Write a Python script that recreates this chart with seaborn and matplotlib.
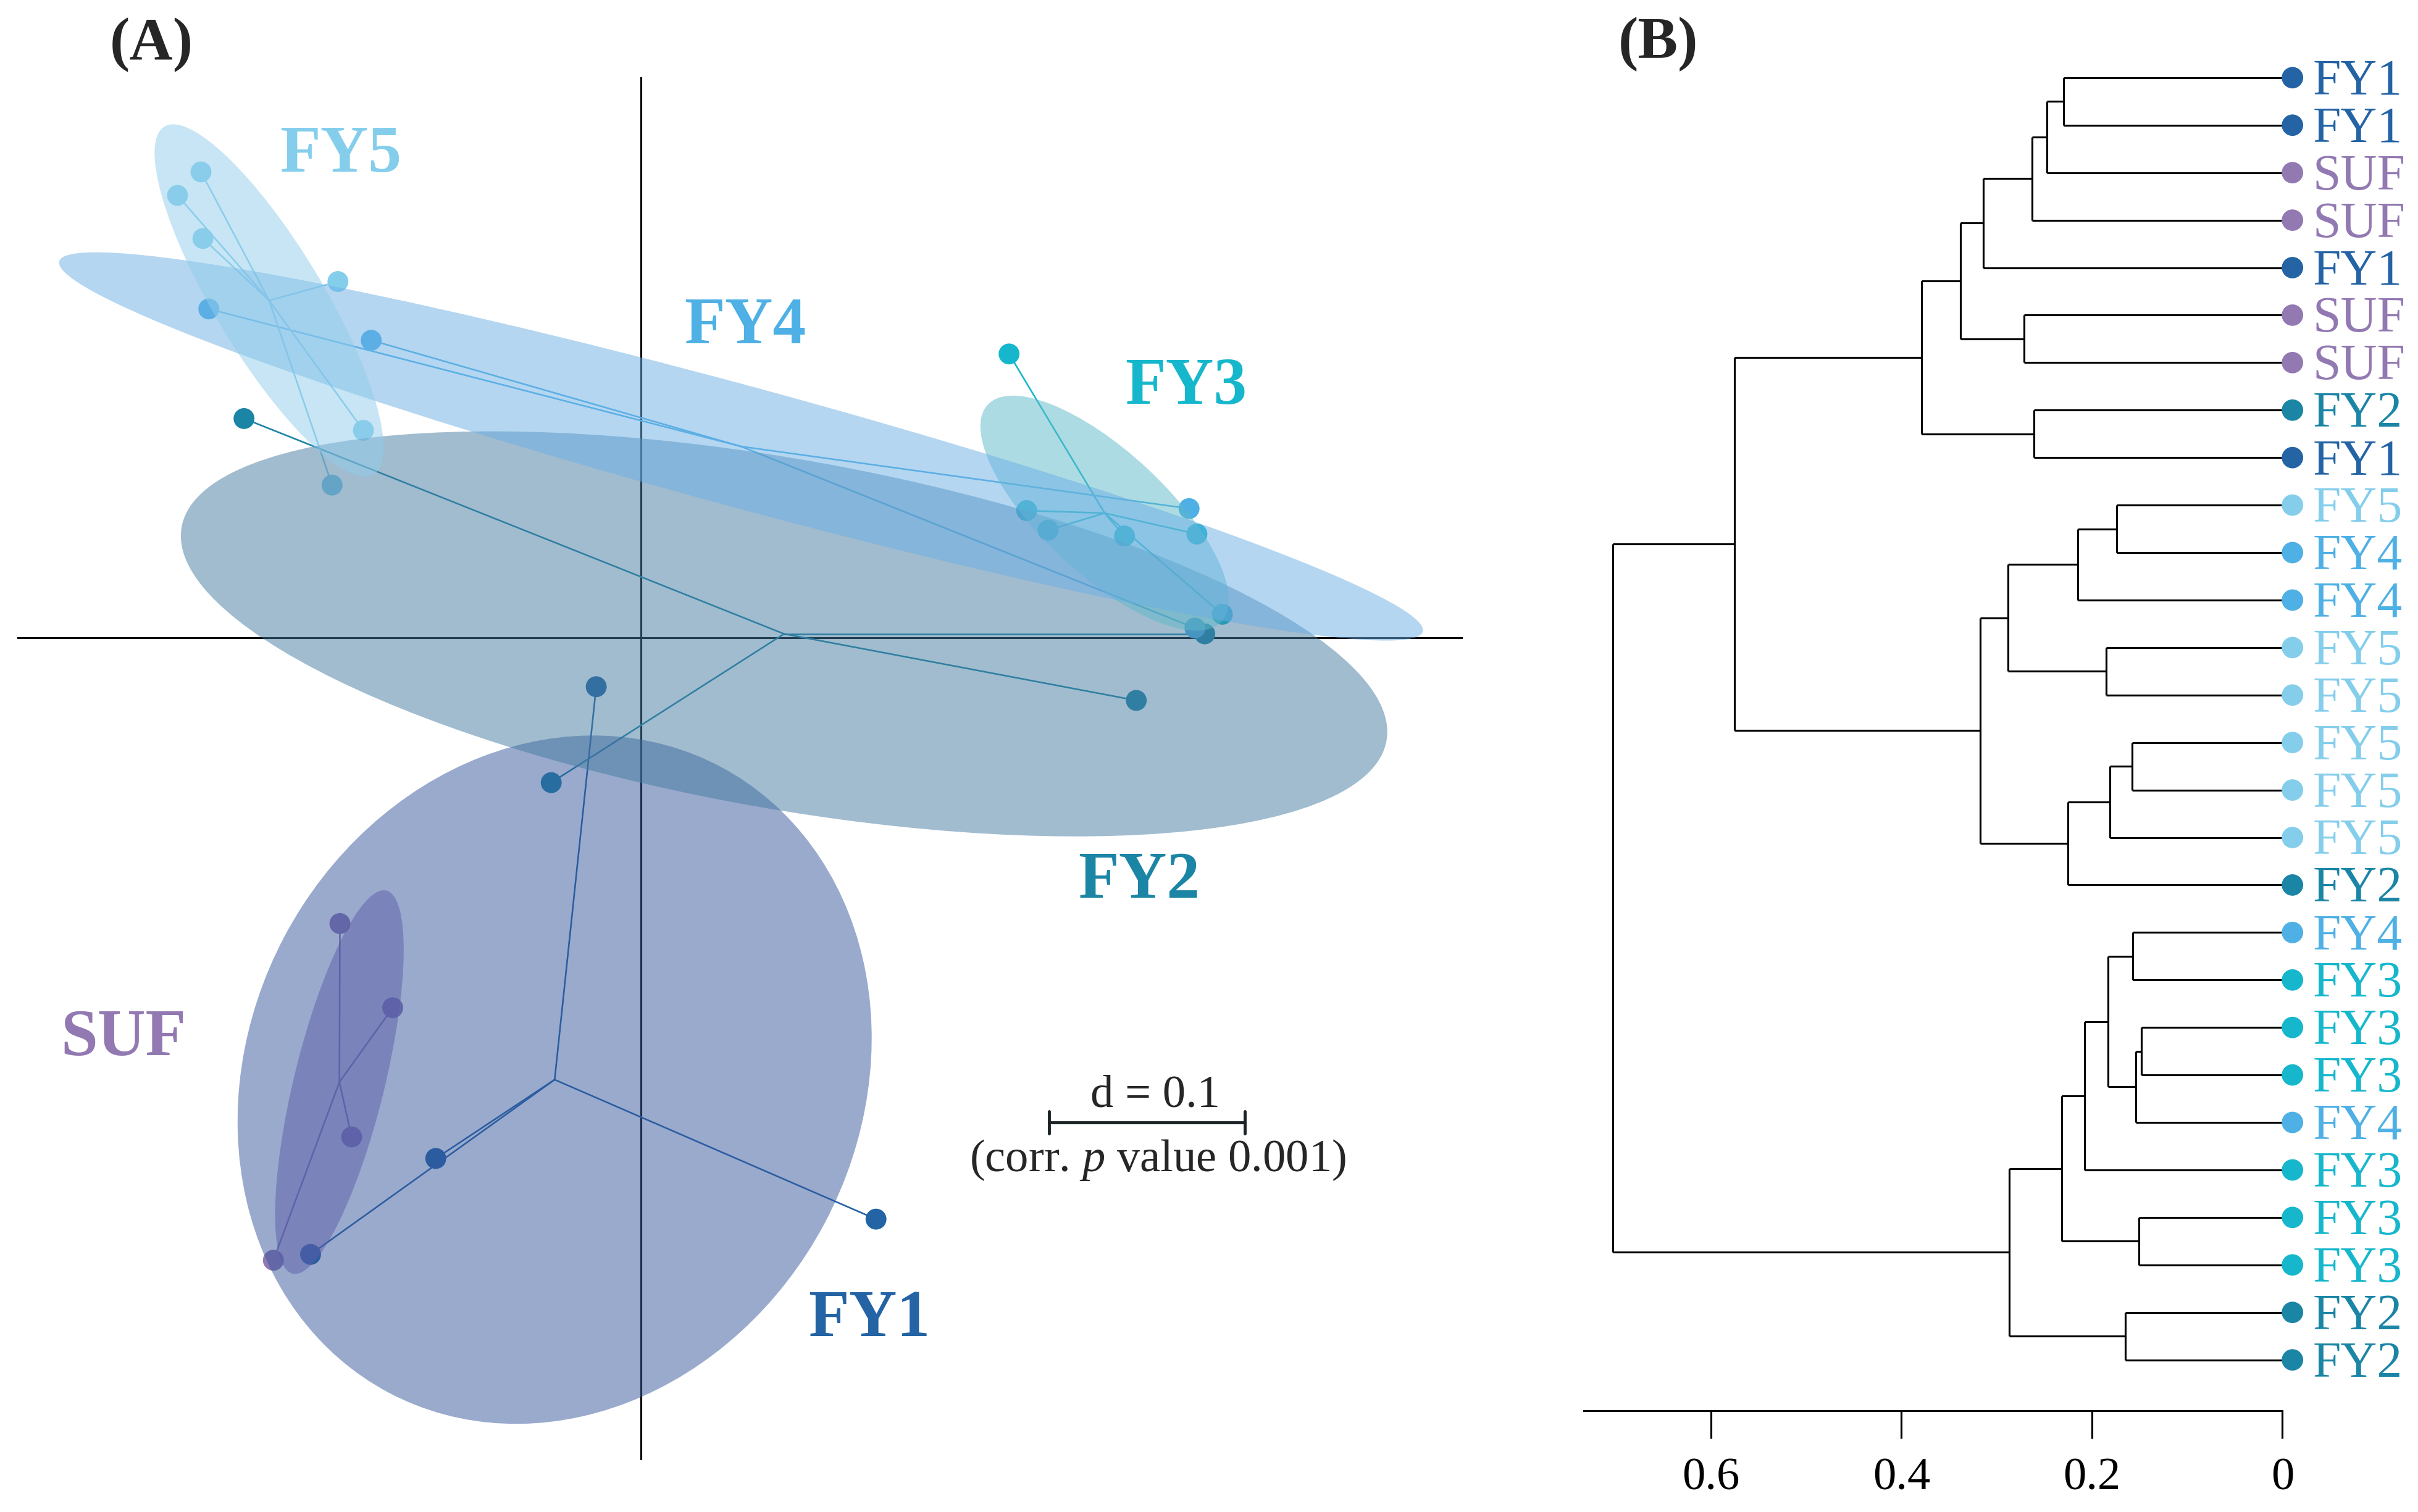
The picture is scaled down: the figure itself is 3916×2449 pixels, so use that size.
import matplotlib
matplotlib.use('Agg')
import matplotlib.pyplot as plt
from matplotlib.patches import Ellipse
import numpy as np
import pandas as pd
import seaborn as sns

# groups and their colours
groups = ['FY1', 'FY2', 'FY3', 'FY4', 'FY5', 'SUF']
point_colors = ['#2463a4', '#1b85a5', '#16b7cc', '#4eb0e4', '#84ceec', '#9279b2']
fill_colors = ['#35579d', '#457ba1', '#5db9c9', '#6bafe5', '#91cdeb', '#5c5faa']

# panel A: ordination scores of each sample
fy1_x = [-0.023, 0.120, -0.105, -0.169]
fy1_y = [-0.025, -0.297, -0.266, -0.315]
fy2_x = [-0.203, 0.253, -0.046, 0.288]
fy2_y = [0.112, -0.032, -0.074, 0.002]
fy3_x = [0.188, 0.197, 0.208, 0.247, 0.284, 0.297]
fy3_y = [0.145, 0.065, 0.055, 0.052, 0.053, 0.012]
fy4_x = [-0.221, -0.138, 0.280, 0.283]
fy4_y = [0.168, 0.152, 0.066, 0.005]
fy5_x = [-0.225, -0.237, -0.224, -0.155, -0.142, -0.158]
fy5_y = [0.238, 0.226, 0.204, 0.182, 0.106, 0.078]
suf_x = [-0.154, -0.127, -0.148, -0.188]
suf_y = [-0.146, -0.189, -0.255, -0.318]

# panel B: dendrogram leaves (top to bottom) and merges (node a, node b, height)
leaf_labels = ['FY1', 'FY1', 'SUF', 'SUF', 'FY1', 'SUF', 'SUF', 'FY2', 'FY1',
               'FY5', 'FY4', 'FY4', 'FY5', 'FY5', 'FY5', 'FY5', 'FY5', 'FY2',
               'FY4', 'FY3', 'FY3', 'FY3', 'FY4', 'FY3', 'FY3', 'FY3', 'FY2', 'FY2']
merge_a = [0, 28, 29, 30, 5, 31, 7, 33, 9, 36, 12, 37, 14, 40, 41, 39, 35,
           18, 20, 46, 45, 48, 24, 49, 26, 51, 44]
merge_b = [1, 2, 3, 4, 6, 32, 8, 34, 10, 11, 13, 38, 15, 16, 17, 42, 43,
           19, 21, 22, 47, 23, 25, 50, 27, 52, 53]
merge_h = [0.230, 0.247, 0.263, 0.314, 0.271, 0.338, 0.261, 0.379, 0.174, 0.215,
           0.185, 0.288, 0.158, 0.181, 0.225, 0.317, 0.575, 0.157, 0.148, 0.154,
           0.183, 0.208, 0.151, 0.232, 0.165, 0.287, 0.703]
height_ticks = [0.6, 0.4, 0.2, 0]
height_labels = ['0.6', '0.4', '0.2', '0']

pca = pd.concat([
    pd.DataFrame({'group': g, 'x': xs, 'y': ys})
    for g, xs, ys in zip(groups,
                         [fy1_x, fy2_x, fy3_x, fy4_x, fy5_x, suf_x],
                         [fy1_y, fy2_y, fy3_y, fy4_y, fy5_y, suf_y])
], ignore_index=True)
palette = dict(zip(groups, point_colors))

sns.set_style('white')
plt.rcParams['font.family'] = ['Liberation Serif', 'DejaVu Serif']
plt.rcParams['mathtext.fontset'] = 'custom'
plt.rcParams['mathtext.rm'] = 'Liberation Serif'
plt.rcParams['mathtext.it'] = 'Liberation Serif:italic'

fig = plt.figure(figsize=(15.664, 9.796), dpi=250)

# ---------------- panel A ----------------
ax = fig.add_axes([0.00705, 0.03446, 0.598, 0.9145])
ax.set_xlim(-0.319, 0.420)
ax.set_ylim(-0.420, 0.2864)
ax.axis('off')
ax.axhline(0, color='black', lw=0.9, zorder=1)
ax.axvline(0, color='black', lw=0.9, zorder=1)

# stars: each sample joined to its group centroid
for g in groups:
    sub = pca[pca.group == g]
    cx, cy = sub.x.mean(), sub.y.mean()
    for px, py in zip(sub.x, sub.y):
        ax.plot([cx, px], [cy, py], color=palette[g], lw=0.75, zorder=2)

sns.scatterplot(data=pca, x='x', y='y', hue='group', palette=palette, s=95,
                edgecolor='none', legend=False, ax=ax, zorder=2.5)

# translucent 1.5-sd ellipses laid over the points
for g, fc in zip(groups, fill_colors):
    sub = pca[pca.group == g]
    cov = np.cov(sub.x, sub.y, bias=True)
    vals, vecs = np.linalg.eigh(cov)
    angle = np.degrees(np.arctan2(vecs[1, 1], vecs[0, 1]))
    ell = Ellipse((sub.x.mean(), sub.y.mean()), 2 * 1.5 * np.sqrt(vals[1]),
                  2 * 1.5 * np.sqrt(vals[0]), angle=angle,
                  facecolor=fc, alpha=0.5, edgecolor='none', zorder=3)
    ax.add_patch(ell)

label_pos = {'FY5': (-0.1536, 0.2492), 'FY4': (0.0530, 0.1618), 'FY3': (0.2785, 0.1306),
             'FY2': (0.2543, -0.1215), 'FY1': (0.1167, -0.3454), 'SUF': (-0.2647, -0.2020)}
for g in groups:
    lx, ly = label_pos[g]
    ax.text(lx, ly - 0.0112, g, color=palette[g], fontsize=31, fontweight='bold',
            ha='center', va='baseline', zorder=5)

# scale bar
ax.plot([0.2085, 0.3085], [-0.2477, -0.2477], color='#1a2226', lw=1.4, zorder=5)
for xe in [0.2085, 0.3085]:
    ax.plot([xe, xe], [-0.2477 - 0.0057, -0.2477 + 0.0057], color='#1a2226', lw=1.4, zorder=5)
ax.text(0.2626, -0.2341, 'd = 0.1', fontsize=21.5, ha='center', va='center', zorder=5)
ax.text(0.2640, -0.2668, '(corr. $\\mathit{p}$ value 0.001)', fontsize=21.5,
        ha='center', va='center', zorder=5)

# ---------------- panel B ----------------
bx = fig.add_axes([0.655, 0.0670, 0.3441, 0.9036])
bx.set_xlim(0.7334, -0.14)
bx.set_ylim(29.07, 0.3)
for side in ['top', 'right', 'left']:
    bx.spines[side].set_visible(False)
bx.spines['bottom'].set_bounds(0, 0.7334)
bx.spines['bottom'].set_linewidth(0.9)
bx.spines['bottom'].set_color('black')
bx.set_xticks(height_ticks)
bx.set_xticklabels(height_labels)
bx.set_yticks([])
bx.tick_params(axis='x', direction='out', length=13, width=0.9, labelsize=21.5,
               pad=9, bottom=True, colors='black')

n = len(leaf_labels)
node_y = {i: i + 1 for i in range(n)}
node_h = {i: 0.0 for i in range(n)}
for k, (a, b, h) in enumerate(zip(merge_a, merge_b, merge_h)):
    ya, yb = node_y[a], node_y[b]
    bx.plot([h, h], [ya, yb], color='black', lw=0.9, solid_capstyle='butt')
    bx.plot([node_h[a], h], [ya, ya], color='black', lw=0.9, solid_capstyle='butt')
    bx.plot([node_h[b], h], [yb, yb], color='black', lw=0.9, solid_capstyle='butt')
    node_y[n + k] = (ya + yb) / 2
    node_h[n + k] = h

leaves = pd.DataFrame({'label': leaf_labels, 'pos': np.arange(1, n + 1),
                       'h': -0.0105})
sns.scatterplot(data=leaves, x='h', y='pos', hue='label', palette=palette, s=100,
                edgecolor='none', legend=False, ax=bx, zorder=4, clip_on=False)
for _, row in leaves.iterrows():
    bx.text(-0.032, row.pos + 0.35, row.label, color=palette[row.label], fontsize=23.5,
            ha='left', va='baseline')
bx.set_xlabel('')
bx.set_ylabel('')

fig.text(0.0626, 0.9702, '(A)', fontsize=28, fontweight='bold', ha='center', va='center')
fig.text(0.6857, 0.9706, '(B)', fontsize=28, fontweight='bold', ha='center', va='center')

fig.savefig('out.png', dpi=250)
